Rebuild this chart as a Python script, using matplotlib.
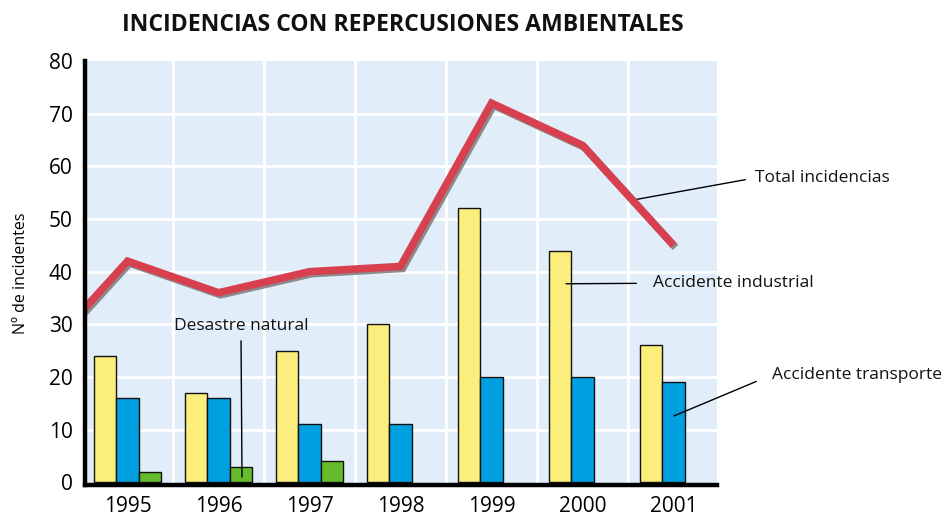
import matplotlib
matplotlib.use("Agg")
import matplotlib.pyplot as plt
import matplotlib.patheffects as pe
import numpy as np

plt.rcParams['font.family'] = ['Open Sans', 'DejaVu Sans']

# Datos: incidencias por año
years = ['1995', '1996', '1997', '1998', '1999', '2000', '2001']
industrial = [24, 17, 25, 30, 52, 44, 26]
transporte = [16, 16, 11, 11, 20, 20, 19]
natural = [2, 3, 4, 0, 0, 0, 0]
# total con el año previo (1994), que queda cortado por el borde izquierdo
total_years = ['1994'] + years
total = [23, 42, 36, 40, 41, 72, 64, 45]

fig = plt.figure(figsize=(9.48, 5.17), dpi=100)
ax = fig.add_axes([0.0897, 0.062, 0.6666, 0.820])

x = np.arange(len(years))
xt = np.arange(len(total_years)) - 1
w = 0.245

ax.set_facecolor('#e1eefa')
ax.bar(x - w, industrial, w, color='#fbee7c', edgecolor='#111111', linewidth=1.0, zorder=3)
ax.bar(x, transporte, w, color='#009fe0', edgecolor='#111111', linewidth=1.0, zorder=3)
ax.bar(x + w, [v if v > 0 else np.nan for v in natural], w, color='#66bb2c',
       edgecolor='#111111', linewidth=1.0, zorder=3)

# linea del total con sombra gris
ax.plot(xt, total, color='#d84050', linewidth=5.4, solid_joinstyle='miter',
        solid_capstyle='butt', zorder=4,
        path_effects=[pe.SimpleLineShadow(offset=(1.5, -1.5), shadow_color='#808080', alpha=0.9),
                      pe.Normal()])

ax.set_xlim(-0.467, 6.478)
ax.set_ylim(-0.5, 80)
ax.set_yticks(range(0, 81, 10))
ax.set_xticks(x)
ax.set_xticklabels(years)
ax.tick_params(axis='both', length=0, labelsize=15)
ax.tick_params(axis='y', pad=9)
ax.tick_params(axis='x', pad=8)

# cuadricula blanca
for yv in range(10, 80, 10):
    ax.axhline(yv, color='white', linewidth=2.0, zorder=1)
for xv in np.arange(0.5, 6, 1):
    ax.axvline(xv, color='white', linewidth=2.2, zorder=1)

for s in ['top', 'right']:
    ax.spines[s].set_visible(False)
for s in ['left', 'bottom']:
    ax.spines[s].set_linewidth(3.2)
    ax.spines[s].set_color('black')
    ax.spines[s].set_zorder(5)

ax.set_ylabel('Nº de incidentes', fontsize=11.5, labelpad=14)

lbl = dict(fontsize=12.5, color='#111111', annotation_clip=False)
ax.annotate('Total incidencias', xy=(5.555, 53.6), xytext=(6.896, 57.8),
            ha='left', va='center',
            arrowprops=dict(arrowstyle='-', lw=1, color='black', relpos=(0, 0.5),
                            shrinkA=5, shrinkB=0), **lbl)
ax.annotate('Accidente industrial', xy=(4.819, 37.7), xytext=(5.775, 37.8),
            ha='left', va='center',
            arrowprops=dict(arrowstyle='-', lw=1, color='black', relpos=(0, 0.5),
                            shrinkA=10, shrinkB=0), **lbl)
ax.annotate('Accidente transporte', xy=(6.005, 12.6), xytext=(7.082, 20.4),
            ha='left', va='center',
            arrowprops=dict(arrowstyle='-', lw=1, color='black', relpos=(0, 0.5),
                            shrinkA=10, shrinkB=0), **lbl)
ax.annotate('Desastre natural', xy=(1.258, 1.0), xytext=(1.247, 29.7),
            ha='center', va='center',
            arrowprops=dict(arrowstyle='-', lw=1, color='black', relpos=(0.5, 0),
                            shrinkA=3, shrinkB=0), **lbl)

fig.text(0.425, 0.952, 'INCIDENCIAS CON REPERCUSIONES AMBIENTALES',
         ha='center', va='center', fontsize=16.6, fontweight='bold', color='#111111')

fig.savefig('out.png', dpi=100)
